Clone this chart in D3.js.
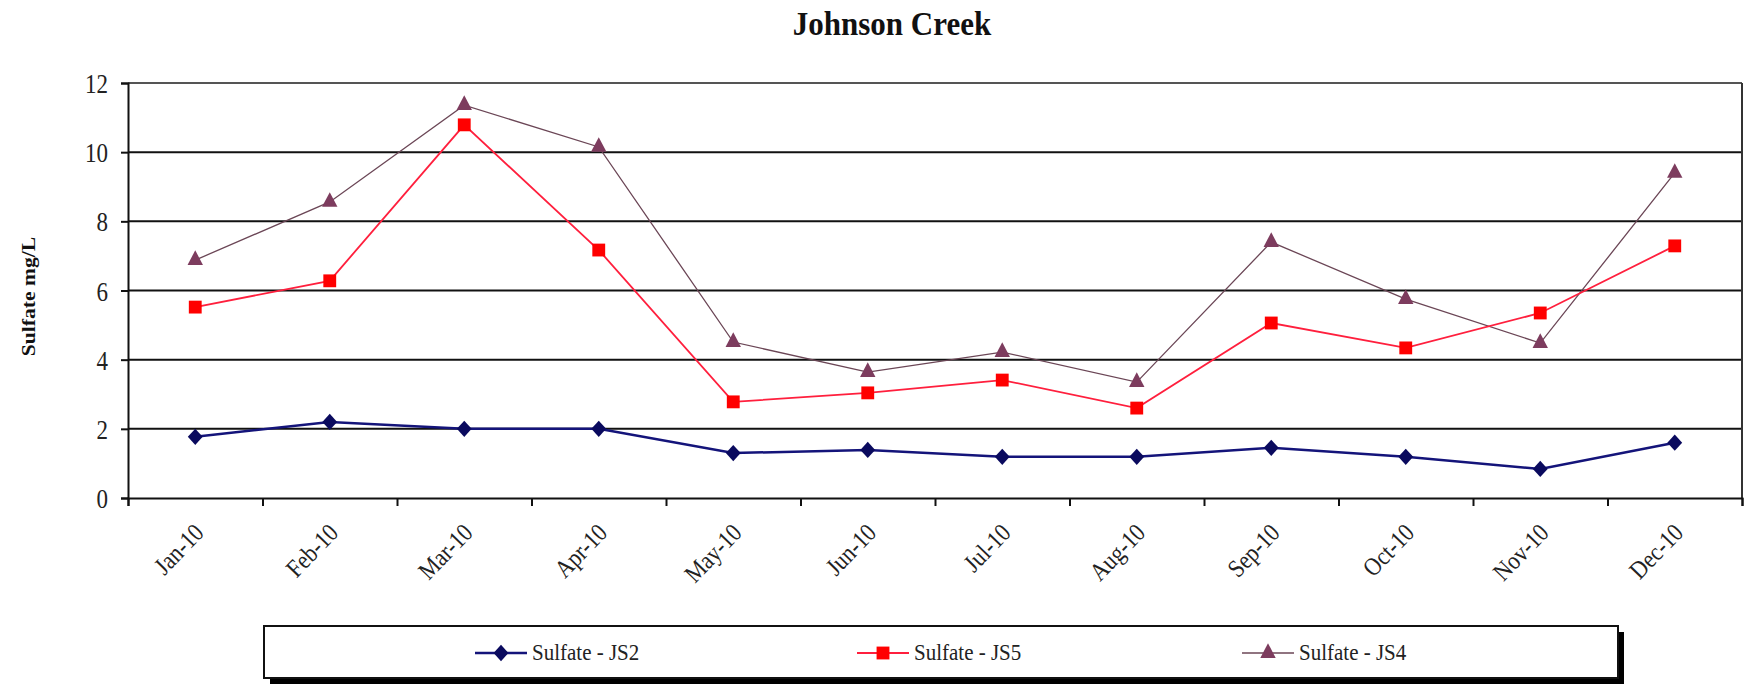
<!DOCTYPE html>
<html>
<head>
<meta charset="utf-8">
<script src="https://cdn.jsdelivr.net/npm/d3@7"></script>
<style>
  html, body { margin: 0; padding: 0; background: #fff; }
  svg { display: block; }
</style>
</head>
<body>
<div id="chart"></div>
<script>
// Monthly sulfate concentrations, Johnson Creek stations, 2010
const months = ["Jan-10", "Feb-10", "Mar-10", "Apr-10", "May-10", "Jun-10",
                "Jul-10", "Aug-10", "Sep-10", "Oct-10", "Nov-10", "Dec-10"];
const sulfateJS2 = [1.77, 2.2, 2.0, 2.0, 1.3, 1.39, 1.19, 1.19, 1.45, 1.19, 0.84, 1.6];
const sulfateJS5 = [5.52, 6.28, 10.79, 7.17, 2.78, 3.04, 3.41, 2.6, 5.06, 4.34, 5.35, 7.29];
const sulfateJS4 = [6.88, 8.56, 11.36, 10.15, 4.51, 3.64, 4.22, 3.35, 7.4, 5.75, 4.48, 9.4];
const seriesNames = ["Sulfate - JS2", "Sulfate - JS5", "Sulfate - JS4"];
const yTicks = [0, 2, 4, 6, 8, 10, 12];

const SERIF = '"Liberation Serif", "Times New Roman", serif';
const W = 1748, H = 684;
const plot = { left: 128, right: 1742, top: 83, bottom: 498 };

const svg = d3.select("#chart").append("svg").attr("width", W).attr("height", H);

const x = d3.scaleBand().domain(months).range([plot.left, plot.right]).padding(0);
const xEdge = d3.scaleLinear().domain([0, months.length]).range([plot.left, plot.right]);
const y = d3.scaleLinear().domain([0, 12]).range([plot.bottom, plot.top]);
const cx = m => x(m) + x.bandwidth() / 2;

// Title
svg.append("text")
  .attr("transform", "translate(892,35) scale(1,1.08)")
  .attr("text-anchor", "middle")
  .style("font-family", SERIF)
  .style("font-weight", "bold")
  .style("font-size", "31px")
  .style("fill", "#111")
  .text("Johnson Creek");

// Y axis title
svg.append("text")
  .attr("transform", `translate(35,${(plot.top + plot.bottom) / 2 + 6}) rotate(-90) scale(1.2,1)`)
  .attr("text-anchor", "middle")
  .style("font-family", SERIF)
  .style("font-weight", "bold")
  .style("font-size", "18px")
  .style("fill", "#111")
  .text("Sulfate mg/L");

// Horizontal gridlines
svg.append("g")
  .selectAll("line")
  .data(yTicks.filter(t => t > 0))
  .join("line")
  .attr("x1", plot.left).attr("x2", plot.right)
  .attr("y1", d => y(d)).attr("y2", d => y(d))
  .attr("stroke", d => d === 12 ? "#555" : "#111")
  .attr("stroke-width", 2);

// Right border of the plot area
svg.append("line")
  .attr("x1", plot.right).attr("x2", plot.right)
  .attr("y1", plot.top).attr("y2", plot.bottom)
  .attr("stroke", "#333").attr("stroke-width", 2);

// Y axis
const yAxis = svg.append("g")
  .attr("transform", `translate(${plot.left},0)`)
  .call(d3.axisLeft(y).tickValues(yTicks).tickSize(7).tickPadding(13).tickFormat(d3.format("d")));
yAxis.select(".domain").attr("stroke", "#111").attr("stroke-width", 2);
yAxis.selectAll(".tick line").attr("stroke", "#111").attr("stroke-width", 2);
yAxis.selectAll(".tick text")
  .style("font-family", SERIF)
  .style("font-size", "23px")
  .style("fill", "#222")
  .attr("dy", "0.34em")
  .attr("transform", "scale(1,1.22)");

// X axis: ticks at category boundaries
const xAxis = svg.append("g")
  .attr("transform", `translate(0,${plot.bottom})`)
  .call(d3.axisBottom(xEdge).tickValues(d3.range(0, months.length + 1)).tickSize(8).tickFormat(""));
xAxis.select(".domain").attr("stroke", "#111").attr("stroke-width", 2);
xAxis.selectAll(".tick line").attr("stroke", "#111").attr("stroke-width", 2);

// Rotated month labels
svg.append("g")
  .selectAll("text")
  .data(months)
  .join("text")
  .attr("transform", d => `translate(${cx(d) + 10},${plot.bottom + 36}) rotate(-46) scale(1,1.15)`)
  .attr("text-anchor", "end")
  .style("font-family", SERIF)
  .style("font-size", "22px")
  .style("fill", "#222")
  .text(d => d);

// Series
const series = [
  { name: seriesNames[0], values: sulfateJS2, line: "#14147a", fill: "#0a0a5e", width: 2.5, shape: "diamond" },
  { name: seriesNames[1], values: sulfateJS5, line: "#ff1f3d", fill: "#ff0000", width: 1.8, shape: "square" },
  { name: seriesNames[2], values: sulfateJS4, line: "#6b4656", fill: "#7d3c5e", width: 1.3, shape: "triangle" }
];

const symbolFor = shape => {
  if (shape === "diamond") return d3.symbol().type(d3.symbolDiamond2).size(140);
  if (shape === "square") return d3.symbol().type(d3.symbolSquare2).size(210);
  return d3.symbol().type(d3.symbolTriangle2).size(170);
};

const lineGen = d3.line().x((d, i) => cx(months[i])).y(d => y(d));

// Draw in order JS4, JS5, JS2 so lower series stay visible
[series[2], series[1], series[0]].forEach(s => {
  const g = svg.append("g");
  g.append("path")
    .datum(s.values)
    .attr("d", lineGen)
    .attr("fill", "none")
    .attr("stroke", s.line)
    .attr("stroke-width", s.width);
  g.selectAll("path.mk")
    .data(s.values)
    .join("path")
    .attr("class", "mk")
    .attr("transform", (d, i) => `translate(${cx(months[i])},${y(d)})` + (s.shape === "square" ? "" : " scale(1,1.1)"))
    .attr("d", symbolFor(s.shape))
    .attr("fill", s.fill)
    .attr("stroke", "none");
});

// Legend box with drop shadow
const lg = { x: 264, y: 626, w: 1354, h: 52 };
svg.append("rect")
  .attr("x", lg.x + 6).attr("y", lg.y + 6).attr("width", lg.w).attr("height", lg.h)
  .attr("fill", "#000");
svg.append("rect")
  .attr("x", lg.x).attr("y", lg.y).attr("width", lg.w).attr("height", lg.h)
  .attr("fill", "#fff").attr("stroke", "#111").attr("stroke-width", 2);

const legendMarkX = [501, 883, 1268];
const legendY = lg.y + 27;
series.forEach((s, i) => {
  const mx = legendMarkX[i];
  const g = svg.append("g");
  g.append("line")
    .attr("x1", mx - 26).attr("x2", mx + 26)
    .attr("y1", legendY).attr("y2", legendY)
    .attr("stroke", s.line).attr("stroke-width", s.width);
  g.append("path")
    .attr("transform", `translate(${mx},${legendY})` + (s.shape === "square" ? "" : " scale(1,1.1)"))
    .attr("d", symbolFor(s.shape))
    .attr("fill", s.fill);
  g.append("text")
    .attr("transform", `translate(${mx + 31},${legendY + 7}) scale(1,1.1)`)
    .style("font-family", SERIF)
    .style("font-size", "21px")
    .style("fill", "#222")
    .text(s.name);
});
</script>
</body>
</html>
